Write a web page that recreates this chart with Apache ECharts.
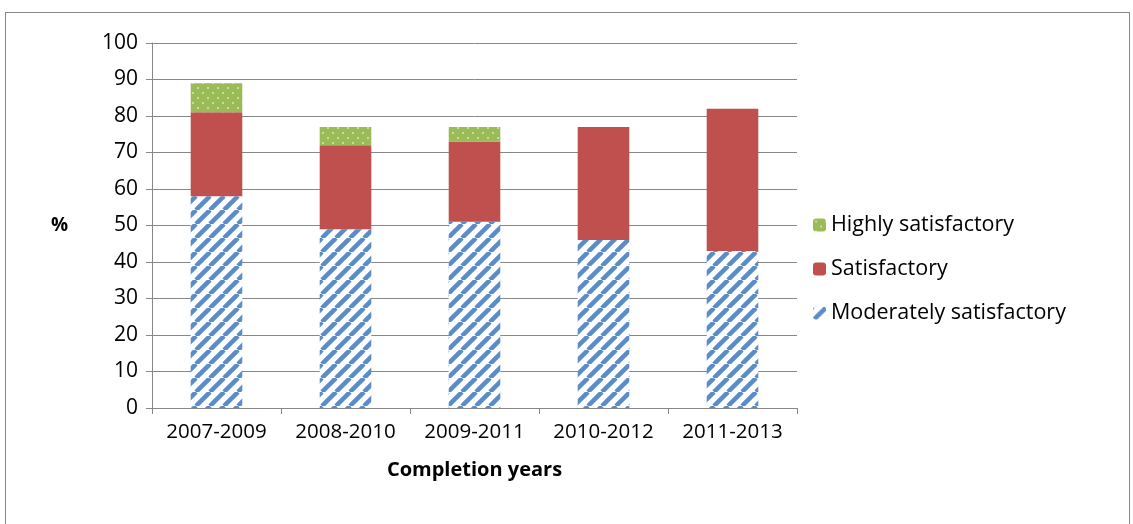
<!DOCTYPE html>
<html><head><meta charset="utf-8">
<script src="https://cdn.jsdelivr.net/npm/echarts@6/dist/echarts.min.js"></script>
<style>html,body{margin:0;background:#fff}#c{width:1133px;height:524px}
#f{position:absolute;left:5px;top:12px;width:1125px;height:520px;border:1px solid #888;box-sizing:border-box;pointer-events:none}</style>
</head><body><div id="c"></div><div id="f"></div>
<script>
var categories = ['2007-2009', '2008-2010', '2009-2011', '2010-2012', '2011-2013'];
var moderately = [58, 49, 51, 46, 43];
var satisfactory = [23, 23, 22, 31, 39];
var highly = [8, 5, 4, 0, 0];

function stripes() {
    var c = document.createElement('canvas'); c.width = 14; c.height = 14;
    var g = c.getContext('2d');
    g.fillStyle = '#fff'; g.fillRect(0, 0, 14, 14);
    g.strokeStyle = '#5b8cc8'; g.lineWidth = 4.5;
    for (var k = -14; k <= 28; k += 14) {
        g.beginPath(); g.moveTo(k, 14); g.lineTo(k + 14, 0); g.stroke();
    }
    return c;
}
function dots() {
    var c = document.createElement('canvas'); c.width = 10; c.height = 10;
    var g = c.getContext('2d');
    g.fillStyle = '#9bbb59'; g.fillRect(0, 0, 10, 10);
    g.fillStyle = '#c6e09a';
    g.fillRect(2, 2, 2, 2); g.fillRect(7, 7, 2, 2);
    return c;
}
var myChart = echarts.init(document.getElementById('c'));
var font = '"Open Sans", sans-serif';
option = {
    animation: false,
    textStyle: {fontFamily: font},
    grid: {left: 152, right: 336, top: 43, bottom: 116},
    legend: {
        orient: 'vertical', left: 808, top: 209, itemGap: 22,
        itemWidth: 13, itemHeight: 13,
        textStyle: {fontSize: 21.5, color: '#000', fontFamily: font},
        data: ['Highly satisfactory', 'Satisfactory', 'Moderately satisfactory']
    },
    xAxis: {
        type: 'category', data: categories,
        name: 'Completion years', nameLocation: 'middle', nameGap: 52,
        nameTextStyle: {fontSize: 20, fontWeight: 'bold', color: '#000'},
        axisLine: {lineStyle: {color: '#888'}},
        axisTick: {show: true, length: 6, lineStyle: {color: '#888'}},
        axisLabel: {fontSize: 20.5, color: '#000', margin: 14, interval: 0}
    },
    yAxis: {
        type: 'value', min: 0, max: 100, interval: 10,
        name: '%', nameLocation: 'middle', nameGap: 84, nameRotate: 0,
        nameTextStyle: {fontSize: 19, fontWeight: 'bold', color: '#000'},
        axisLine: {show: true, lineStyle: {color: '#888'}},
        axisTick: {show: true, length: 6, lineStyle: {color: '#888'}},
        axisLabel: {fontSize: 21, color: '#000', margin: 14},
        splitLine: {lineStyle: {color: '#888'}}
    },
    series: [
        {name: 'Moderately satisfactory', type: 'bar', stack: 's', barWidth: '40%',
         itemStyle: {color: {image: stripes(), repeat: 'repeat'}}, data: moderately},
        {name: 'Satisfactory', type: 'bar', stack: 's',
         itemStyle: {color: '#c0504d'}, data: satisfactory},
        {name: 'Highly satisfactory', type: 'bar', stack: 's',
         itemStyle: {color: {image: dots(), repeat: 'repeat'}}, data: highly}
    ]
};
myChart.setOption(option, true);
</script></body></html>
